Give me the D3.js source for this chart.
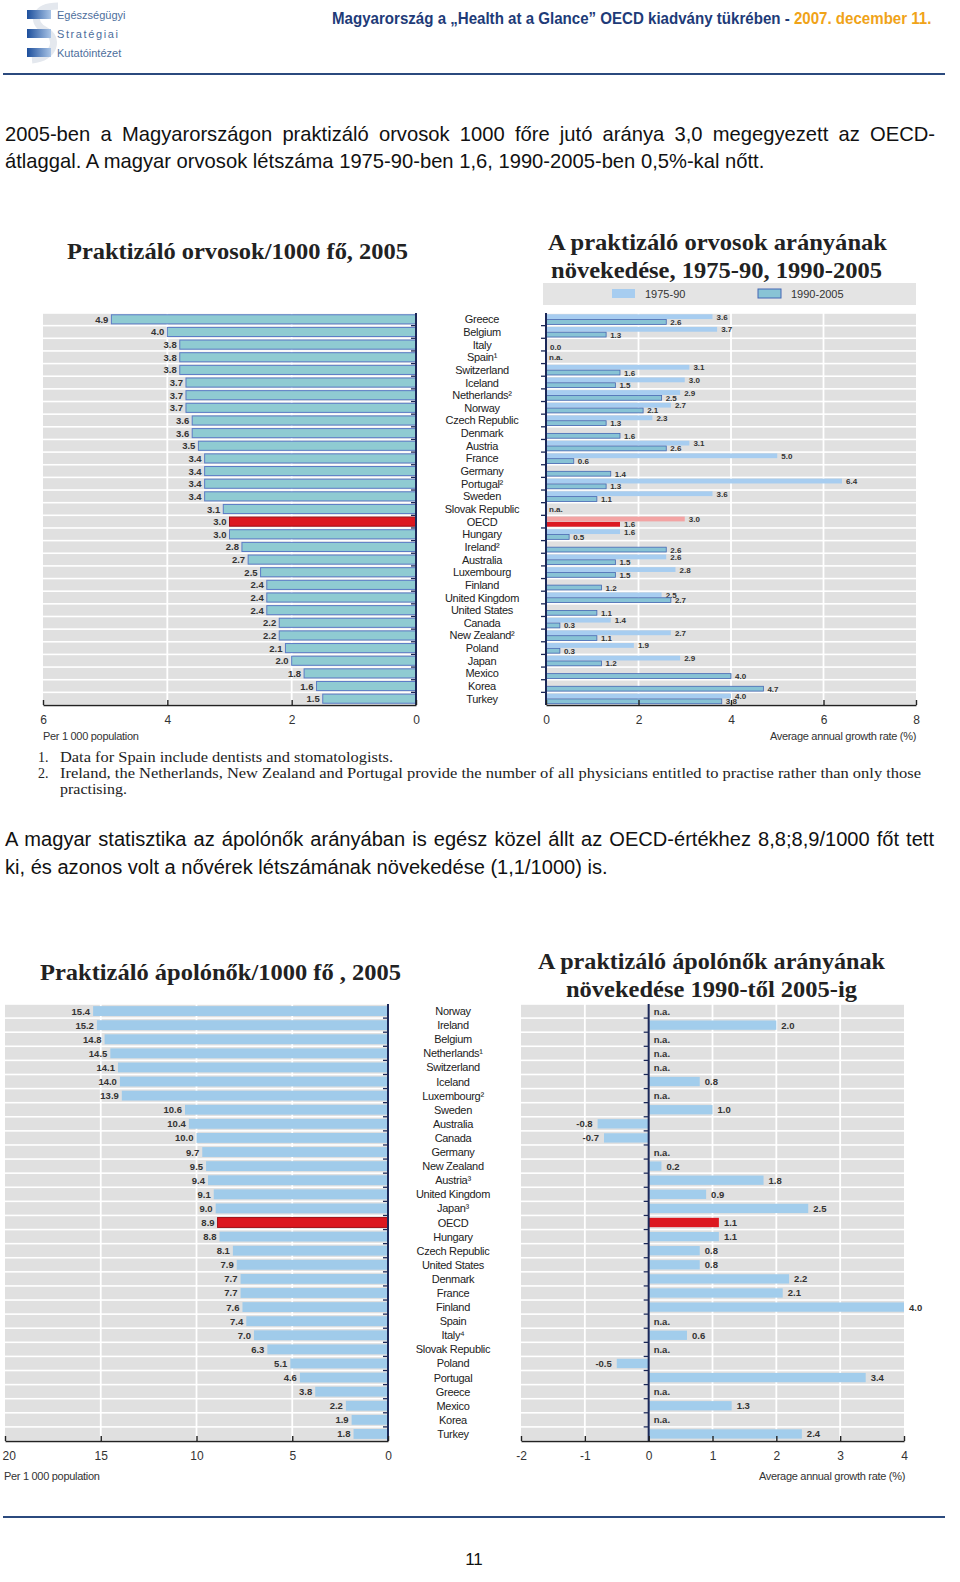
<!DOCTYPE html>
<html>
<head>
<meta charset="utf-8">
<script src="https://cdn.jsdelivr.net/npm/d3@7"></script>
<style>
body{margin:0;background:#fff;}
svg{display:block;}
</style>
</head>
<body>
<svg id="page"></svg>
<script>
const width = 960;
const height = 1582;

// ---- data: physicians ----
const docCountries = ["Greece","Belgium","Italy","Spain¹","Switzerland","Iceland","Netherlands²","Norway","Czech Republic","Denmark","Austria","France","Germany","Portugal²","Sweden","Slovak Republic","OECD","Hungary","Ireland²","Australia","Luxembourg","Finland","United Kingdom","United States","Canada","New Zealand²","Poland","Japan","Mexico","Korea","Turkey"];
const docRate2005 = [4.9,4.0,3.8,3.8,3.8,3.7,3.7,3.7,3.6,3.6,3.5,3.4,3.4,3.4,3.4,3.1,3.0,3.0,2.8,2.7,2.5,2.4,2.4,2.4,2.2,2.2,2.1,2.0,1.8,1.6,1.5];
const docGrowth7590 = [3.6,3.7,null,null,3.1,3.0,2.9,2.7,2.3,null,3.1,5.0,null,6.4,3.6,null,3.0,1.6,null,2.6,2.8,null,2.5,null,1.4,2.7,1.9,2.9,null,null,4.0];
const docGrowth9005 = [2.6,1.3,0.0,null,1.6,1.5,2.5,2.1,1.3,1.6,2.6,0.6,1.4,1.3,1.1,null,1.6,0.5,2.6,1.5,1.5,1.2,2.7,1.1,0.3,1.1,0.3,1.2,4.0,4.7,3.8];
const docRateTicks = [0,2,4,6];
const docGrowthTicks = [0,2,4,6,8];
const docGrowthSeries = ["1975-90","1990-2005"];

// ---- data: nurses ----
const nurseCountries = ["Norway","Ireland","Belgium","Netherlands¹","Switzerland","Iceland","Luxembourg²","Sweden","Australia","Canada","Germany","New Zealand","Austria³","United Kingdom","Japan³","OECD","Hungary","Czech Republic","United States","Denmark","France","Finland","Spain","Italy⁴","Slovak Republic","Poland","Portugal","Greece","Mexico","Korea","Turkey"];
const nurseRate2005 = [15.4,15.2,14.8,14.5,14.1,14.0,13.9,10.6,10.4,10.0,9.7,9.5,9.4,9.1,9.0,8.9,8.8,8.1,7.9,7.7,7.7,7.6,7.4,7.0,6.3,5.1,4.6,3.8,2.2,1.9,1.8];
const nurseGrowth = [null,2.0,null,null,null,0.8,null,1.0,-0.8,-0.7,null,0.2,1.8,0.9,2.5,1.1,1.1,0.8,0.8,2.2,2.1,4.0,null,0.6,null,-0.5,3.4,null,1.3,null,2.4];
const nurseRateTicks = [0,5,10,15,20];
const nurseGrowthTicks = [-2,-1,0,1,2,3,4];

const SANS = "'Liberation Sans', Arial, sans-serif";
const NARROW = "'Liberation Sans Narrow', 'Arial Narrow', 'Liberation Sans', sans-serif";
const SERIF = "'Liberation Serif', 'Times New Roman', serif";
const ROW = "#e0e0e0", AXIS = "#1b2858", RED = "#dc1820", PINK = "#f3a3a3";
// plain hyphen minus, like the original
const fmt = (d) => d.toFixed(1);
const fmtTick = (d) => String(d);

var svg = d3.select("#page").attr("width", width).attr("height", height);
svg.append("rect").attr("width", width).attr("height", height).attr("fill", "#fff");

function fit(t, w) {
  return t.attr("textLength", w).attr("lengthAdjust", "spacingAndGlyphs");
}

// ---- header ----
var defs = svg.append("defs");
var lg = defs.append("linearGradient").attr("id", "logoGrad");
lg.append("stop").attr("offset", "0%").attr("stop-color", "#1d4f9c");
lg.append("stop").attr("offset", "100%").attr("stop-color", "#a9c4e6");
svg.append("path").attr("d", "M58,6 C35,6 30,22 45,30 C60,38 55,58 32,60")
  .attr("fill", "none").attr("stroke", "#e4e8ee").attr("stroke-width", 7);
[10, 29, 48].forEach((yy) => {
  svg.append("rect").attr("x", 27).attr("y", yy).attr("width", 24).attr("height", 9).attr("fill", "url(#logoGrad)");
});
[["Egészségügyi", 19, 0], ["Stratégiai", 38, 1.6], ["Kutatóintézet", 57, 0]].forEach((d) => {
  svg.append("text").attr("x", 57).attr("y", d[1]).attr("font-family", SANS).attr("font-size", 11)
    .attr("letter-spacing", d[2]).attr("fill", "#4d6e9c").text(d[0]);
});
// header title: one text, squeezed horizontally to the original's width
var head = svg.append("text").attr("font-family", NARROW).attr("font-weight", "bold").attr("font-size", 17);
head.append("tspan").attr("fill", "#1e3b78").text("Magyarország a „Health at a Glance” OECD kiadvány tükrében - ");
head.append("tspan").attr("fill", "#f0a318").text("2007. december 11.");
var headK = 600 / head.node().getComputedTextLength();
head.attr("transform", `translate(332,24) scale(${headK},1)`);
svg.append("line").attr("x1", 3).attr("x2", 945).attr("y1", 74).attr("y2", 74)
  .attr("stroke", "#2b4a7e").attr("stroke-width", 2);

// ---- paragraphs ----
function para(lines) {
  // last line sets the condensed factor, full lines are justified with word-spacing
  var last = lines[lines.length - 1];
  var probe = svg.append("text").attr("font-family", SANS).attr("font-size", 20).text(last[0]);
  var k = last[3] / probe.node().getComputedTextLength();
  probe.remove();
  lines.forEach((l) => {
    var t = svg.append("text").attr("font-family", SANS).attr("font-size", 20).attr("fill", "#111")
      .attr("transform", `translate(${l[1]},${l[2]}) scale(${k},1)`).text(l[0]);
    if (l[4]) {
      var nat = t.node().getComputedTextLength();
      var spaces = (l[0].match(/ /g) || []).length;
      t.attr("word-spacing", (l[3] / k - nat) / spaces);
    }
  });
}
para([
  ["2005-ben a Magyarországon praktizáló orvosok 1000 főre jutó aránya 3,0 megegyezett az OECD-", 5, 141, 930, true],
  ["átlaggal. A magyar orvosok létszáma 1975-90-ben 1,6, 1990-2005-ben 0,5%-kal nőtt.", 5, 168, 760, false]
]);
para([
  ["A magyar statisztika az ápolónők arányában is egész közel állt az OECD-értékhez 8,8;8,9/1000 főt tett", 5, 846, 929, true],
  ["ki, és azonos volt a nővérek létszámának növekedése (1,1/1000) is.", 5, 874, 603, false]
]);

// ---- chart helpers ----
function rows(g, names, y0, y1, xa, xb) {
  var y = d3.scaleBand().domain(d3.range(names.length)).range([y0, y1]);
  g.append("g").selectAll("rect").data(names).join("rect")
    .attr("x", xa).attr("width", xb - xa)
    .attr("y", (d, i) => y(i) + 0.8).attr("height", y.bandwidth() - 1.6)
    .attr("fill", ROW);
  return y;
}

function grid(g, x, ticks, y0, y1) {
  g.append("g").selectAll("line").data(ticks).join("line")
    .attr("x1", (d) => x(d)).attr("x2", (d) => x(d))
    .attr("y1", y0).attr("y2", y1)
    .attr("stroke", "#fff").attr("stroke-width", 1.8);
}

function bottomAxis(g, x, ticks, yPos) {
  var ax = d3.axisBottom(x).tickValues(ticks).tickFormat(fmtTick)
    .tickSizeInner(-5).tickSizeOuter(0).tickPadding(10);
  var ga = g.append("g").attr("transform", `translate(0,${yPos})`).call(ax);
  ga.select(".domain").attr("stroke", "#222").attr("stroke-width", 1.6);
  ga.selectAll(".tick line").attr("stroke", "#222").attr("stroke-width", 1.4);
  ga.selectAll(".tick text").attr("font-family", SANS).attr("font-size", 12).attr("fill", "#333");
  // keep a label that would fall off the page edge inside it
  ga.selectAll(".tick").filter((d) => x(d) < 12).select("text").attr("text-anchor", "start").attr("x", -3);
}

function zeroAxis(g, x0, y, n, dir) {
  g.append("line").attr("x1", x0).attr("x2", x0).attr("y1", y.range()[0]).attr("y2", y.range()[1])
    .attr("stroke", AXIS).attr("stroke-width", 2);
  g.append("g").selectAll("line").data(d3.range(1, n)).join("line")
    .attr("x1", x0).attr("x2", x0 + dir * 5)
    .attr("y1", (i) => y(i)).attr("y2", (i) => y(i))
    .attr("stroke", AXIS).attr("stroke-width", 1.3);
}

function countryNames(g, names, y, cx) {
  g.append("g").selectAll("text").data(names).join("text")
    .attr("x", cx).attr("y", (d, i) => y(i) + y.bandwidth() / 2 + 4)
    .attr("text-anchor", "middle").attr("font-family", SANS).attr("font-size", 11)
    .attr("letter-spacing", -0.3).attr("fill", "#222").text((d) => d);
}

function rankChart(opt) {
  var g = svg.append("g");
  var x = d3.scaleLinear().domain([opt.ticks[opt.ticks.length - 1], 0]).range([opt.xa, opt.xb]);
  var y = rows(g, opt.names, opt.y0, opt.y1, opt.xa, opt.xb);
  grid(g, x, opt.ticks.slice(1, -1), opt.y0, opt.y1);
  var bh = y.bandwidth() * opt.barFrac;
  g.append("g").selectAll("rect").data(opt.values).join("rect")
    .attr("x", (d) => x(d)).attr("width", (d) => x(0) - x(d))
    .attr("y", (d, i) => y(i) + (y.bandwidth() - bh) / 2).attr("height", bh)
    .attr("fill", (d, i) => opt.names[i] === "OECD" ? RED : opt.fill)
    .attr("stroke", (d, i) => opt.names[i] === "OECD" ? "#a01018" : opt.stroke)
    .attr("stroke-width", 1);
  g.append("g").selectAll("text").data(opt.values).join("text")
    .attr("x", (d) => x(d) - 3).attr("y", (d, i) => y(i) + y.bandwidth() / 2 + 3.5)
    .attr("text-anchor", "end").attr("font-family", SANS).attr("font-size", 9.5)
    .attr("font-weight", "bold").attr("fill", "#333").text((d) => fmt(d));
  zeroAxis(g, x(0), y, opt.names.length, -1);
  bottomAxis(g, x, opt.ticks, opt.y1);
  countryNames(g, opt.names, y, opt.cx);
  return y;
}

// ---- top left: physicians per 1000 ----
var topY0 = 313, topY1 = 705;
rankChart({names: docCountries, values: docRate2005, ticks: docRateTicks,
  xa: 43, xb: 416, y0: topY0, y1: topY1, barFrac: 0.72, cx: 482,
  fill: "#8fcbd2", stroke: "#5b7cc6"});

// ---- top right: physicians growth ----
(function() {
  var g = svg.append("g");
  var x = d3.scaleLinear().domain([0, 8]).range([546, 916]);
  var y = rows(g, docCountries, topY0, topY1, 546, 916);
  grid(g, x, docGrowthTicks.slice(1, -1), topY0, topY1);
  var bw = y.bandwidth();
  var series = [
    {vals: docGrowth7590, off: 0.1, fill: "#a7cdf0", stroke: "none", ofill: PINK},
    {vals: docGrowth9005, off: 0.52, fill: "#88c3d5", stroke: "#4467b4", ofill: RED}
  ];
  series.forEach((s) => {
    var idx = d3.range(s.vals.length).filter((i) => s.vals[i] !== null);
    g.append("g").selectAll("rect").data(idx).join("rect")
      .attr("x", x(0)).attr("width", (i) => x(s.vals[i]) - x(0))
      .attr("y", (i) => y(i) + bw * s.off).attr("height", bw * 0.38)
      .attr("fill", (i) => docCountries[i] === "OECD" ? s.ofill : s.fill)
      .attr("stroke", (i) => docCountries[i] === "OECD" ? "none" : s.stroke).attr("stroke-width", 0.8);
    g.append("g").selectAll("text").data(idx).join("text")
      .attr("x", (i) => x(s.vals[i]) + 4).attr("y", (i) => y(i) + bw * (s.off + 0.19) + 3)
      .attr("font-family", SANS).attr("font-size", 8).attr("font-weight", "bold")
      .attr("fill", "#333").text((i) => fmt(s.vals[i]));
  });
  var na = d3.range(docCountries.length).filter((i) => docGrowth7590[i] === null && docGrowth9005[i] === null);
  g.append("g").selectAll("text").data(na).join("text")
    .attr("x", x(0) + 3).attr("y", (i) => y(i) + bw / 2 + 3)
    .attr("font-family", SANS).attr("font-size", 8).attr("font-weight", "bold").attr("fill", "#333").text("n.a.");
  zeroAxis(g, x(0), y, docCountries.length, -1);
  bottomAxis(g, x, docGrowthTicks, topY1);

  // legend band
  var lgd = svg.append("g");
  lgd.append("rect").attr("x", 543).attr("y", 283).attr("width", 373).attr("height", 22).attr("fill", "#e4e4e4");
  var lx = d3.scalePoint().domain(docGrowthSeries).range([612, 758]);
  lgd.selectAll("rect.sw").data(docGrowthSeries).join("rect").attr("class", "sw")
    .attr("x", (d) => lx(d)).attr("y", 289).attr("width", 23).attr("height", 9)
    .attr("fill", (d, i) => series[i].fill).attr("stroke", (d, i) => series[i].stroke);
  lgd.selectAll("text").data(docGrowthSeries).join("text")
    .attr("x", (d) => lx(d) + 33).attr("y", 298)
    .attr("font-family", SANS).attr("font-size", 11).attr("fill", "#333").text((d) => d);
})();

// top titles, axis captions, notes
fit(svg.append("text").attr("x", 67).attr("y", 259).attr("font-family", SERIF).attr("font-weight", "bold")
  .attr("font-size", 23).attr("fill", "#222").text("Praktizáló orvosok/1000 fő, 2005"), 341);
fit(svg.append("text").attr("x", 548).attr("y", 250).attr("font-family", SERIF).attr("font-weight", "bold")
  .attr("font-size", 23).attr("fill", "#222").text("A praktizáló orvosok arányának"), 339);
fit(svg.append("text").attr("x", 551).attr("y", 278).attr("font-family", SERIF).attr("font-weight", "bold")
  .attr("font-size", 23).attr("fill", "#222").text("növekedése, 1975-90, 1990-2005"), 331);
svg.append("text").attr("x", 43).attr("y", 740).attr("font-family", SANS).attr("font-size", 11)
  .attr("letter-spacing", -0.3).attr("fill", "#333").text("Per 1 000 population");
svg.append("text").attr("x", 916).attr("y", 740).attr("text-anchor", "end").attr("font-family", SANS)
  .attr("font-size", 11).attr("letter-spacing", -0.3).attr("fill", "#333").text("Average annual growth rate (%)");
[["1.", "Data for Spain include dentists and stomatologists.", 762, 333],
 ["2.", "Ireland, the Netherlands, New Zealand and Portugal provide the number of all physicians entitled to practise rather than only those", 778, 861],
 ["", "practising.", 794, 67]].forEach((n) => {
  svg.append("text").attr("x", 38).attr("y", n[2]).attr("font-family", SERIF).attr("font-size", 14)
    .attr("fill", "#222").text(n[0]);
  fit(svg.append("text").attr("x", 60).attr("y", n[2]).attr("font-family", SERIF).attr("font-size", 14)
    .attr("fill", "#222").text(n[1]), n[3]);
});

// ---- bottom left: nurses per 1000 ----
var botY0 = 1004, botY1 = 1441;
rankChart({names: nurseCountries, values: nurseRate2005, ticks: nurseRateTicks,
  xa: 5, xb: 388, y0: botY0, y1: botY1, barFrac: 0.7, cx: 453,
  fill: "#a0cbea", stroke: "none"});

// ---- bottom right: nurses growth ----
(function() {
  var g = svg.append("g");
  var x = d3.scaleLinear().domain([-2, 4]).range([521, 904]);
  var y = rows(g, nurseCountries, botY0, botY1, 521, 904);
  grid(g, x, nurseGrowthTicks.filter((t) => t !== 0 && t !== -2 && t !== 4), botY0, botY1);
  var bw = y.bandwidth(), bh = bw * 0.66;
  var idx = d3.range(nurseGrowth.length).filter((i) => nurseGrowth[i] !== null);
  g.append("g").selectAll("rect").data(idx).join("rect")
    .attr("x", (i) => Math.min(x(0), x(nurseGrowth[i])))
    .attr("width", (i) => Math.abs(x(nurseGrowth[i]) - x(0)))
    .attr("y", (i) => y(i) + (bw - bh) / 2).attr("height", bh)
    .attr("fill", (i) => nurseCountries[i] === "OECD" ? RED : "#a2cdec");
  g.append("g").selectAll("text").data(d3.range(nurseGrowth.length)).join("text")
    .attr("x", (i) => nurseGrowth[i] === null ? x(0) + 5 : x(nurseGrowth[i]) + (nurseGrowth[i] < 0 ? -5 : 5))
    .attr("y", (i) => y(i) + bw / 2 + 3.5)
    .attr("text-anchor", (i) => nurseGrowth[i] !== null && nurseGrowth[i] < 0 ? "end" : "start")
    .attr("font-family", SANS).attr("font-size", 9.5).attr("font-weight", "bold").attr("fill", "#333")
    .text((i) => nurseGrowth[i] === null ? "n.a." : fmt(nurseGrowth[i]));
  zeroAxis(g, x(0), y, nurseCountries.length, -1);
  bottomAxis(g, x, nurseGrowthTicks, botY1);
})();

fit(svg.append("text").attr("x", 40).attr("y", 980).attr("font-family", SERIF).attr("font-weight", "bold")
  .attr("font-size", 23).attr("fill", "#222").text("Praktizáló ápolónők/1000 fő , 2005"), 361);
fit(svg.append("text").attr("x", 538).attr("y", 969).attr("font-family", SERIF).attr("font-weight", "bold")
  .attr("font-size", 23).attr("fill", "#222").text("A praktizáló ápolónők arányának"), 347);
fit(svg.append("text").attr("x", 566).attr("y", 997).attr("font-family", SERIF).attr("font-weight", "bold")
  .attr("font-size", 23).attr("fill", "#222").text("növekedése 1990-től 2005-ig"), 291);
svg.append("text").attr("x", 4).attr("y", 1480).attr("font-family", SANS).attr("font-size", 11)
  .attr("letter-spacing", -0.3).attr("fill", "#333").text("Per 1 000 population");
svg.append("text").attr("x", 905).attr("y", 1480).attr("text-anchor", "end").attr("font-family", SANS)
  .attr("font-size", 11).attr("letter-spacing", -0.3).attr("fill", "#333").text("Average annual growth rate (%)");

// ---- footer ----
svg.append("line").attr("x1", 3).attr("x2", 945).attr("y1", 1517).attr("y2", 1517)
  .attr("stroke", "#2b4a7e").attr("stroke-width", 2);
svg.append("text").attr("x", 474).attr("y", 1565).attr("text-anchor", "middle").attr("font-family", SANS)
  .attr("font-size", 17).attr("fill", "#111").text("11");
</script>
</body>
</html>
